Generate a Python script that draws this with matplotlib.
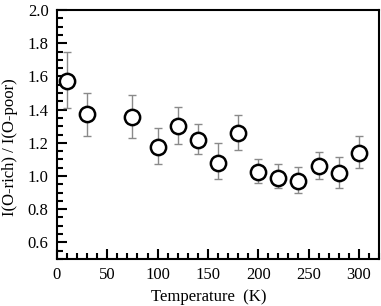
import matplotlib
matplotlib.use("Agg")
import matplotlib.pyplot as plt
from matplotlib.ticker import MultipleLocator

# ================================
# Data
# ================================
temperature = [10, 30, 75, 100, 120, 140, 160, 180, 200, 220, 240, 260, 280, 300]
ratio = [1.572, 1.372, 1.355, 1.173, 1.301, 1.217, 1.080, 1.257, 1.026, 0.990, 0.970, 1.060, 1.016, 1.137]
err_upper = [1.745, 1.502, 1.486, 1.291, 1.418, 1.313, 1.201, 1.366, 1.100, 1.070, 1.056, 1.146, 1.116, 1.243]
err_lower = [1.411, 1.239, 1.229, 1.070, 1.191, 1.133, 0.982, 1.155, 0.956, 0.926, 0.898, 0.982, 0.930, 1.050]

yerr = [[r - lo for r, lo in zip(ratio, err_lower)],
        [hi - r for r, hi in zip(ratio, err_upper)]]

plt.rcParams["font.family"] = "Liberation Serif"

fig = plt.figure(figsize=(3.81, 3.06), dpi=100)
ax = fig.add_axes([0.1496, 0.1536, 0.845, 0.8137])

ax.errorbar(temperature, ratio, yerr=yerr, fmt="none", ecolor="#8a8a8a",
            elinewidth=1.0, capsize=3, capthick=1.0, zorder=2)
ax.plot(temperature, ratio, "o", markersize=11, markerfacecolor="white",
        markeredgecolor="black", markeredgewidth=1.8, zorder=3)

ax.set_xlim(0, 320)
ax.set_ylim(0.5, 2.0)
ax.xaxis.set_major_locator(MultipleLocator(50))
ax.xaxis.set_minor_locator(MultipleLocator(10))
ax.yaxis.set_minor_locator(MultipleLocator(0.05))
ax.set_yticks([0.6, 0.8, 1.0, 1.2, 1.4, 1.6, 1.8, 2.0])
ax.yaxis.set_major_formatter(plt.FormatStrFormatter("%.1f"))

ax.tick_params(which="both", direction="in", top=False, right=False,
               labelsize=12, width=1.5)
ax.tick_params(which="major", length=7, pad=6)
ax.tick_params(which="minor", length=4)
for sp in ax.spines.values():
    sp.set_linewidth(1.5)

ax.set_xlabel("Temperature  (K)", fontsize=12)
ax.set_ylabel("I(O-rich) / I(O-poor)", fontsize=12)
ax.xaxis.set_label_coords(0.47, -0.12)
ax.yaxis.set_label_coords(-0.122, 0.448)

fig.savefig("out.png", dpi=100)
